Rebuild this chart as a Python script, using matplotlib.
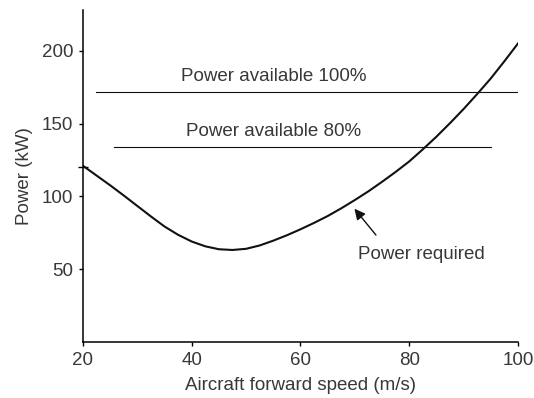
import matplotlib
matplotlib.use("Agg")
import matplotlib.pyplot as plt

# power required curve
speed = [20, 22.5, 25, 27.5, 30, 32.5, 35, 37.5, 40, 42.5, 45, 47.5, 50,
         52.5, 55, 57.5, 60, 62.5, 65, 67.5, 70, 72.5, 75, 77.5, 80,
         82.5, 85, 87.5, 90, 92.5, 95, 97.5, 100]
power_req = [121, 114.3, 107.6, 100.6, 93.4, 86.2, 79.3, 73.6, 69, 65.7, 63.7, 63.2, 64,
             66.3, 69.6, 73.3, 77.4, 81.8, 86.5, 91.8, 97.5, 103.5, 110, 116.8, 124,
             132.3, 141, 150.3, 160, 170.3, 181, 192.8, 205]

# power available lines: level, start speed, end speed
avail_levels = [172, 134]
avail_start = [22.4, 25.7]
avail_end = [100, 95]
avail_labels = ["Power available 100%", "Power available 80%"]
avail_label_y = [182.5, 144.5]

yticks = [50, 100, 150, 200]
xticks = [20, 40, 60, 80, 100]

plt.rcParams['font.family'] = ['Liberation Sans', 'DejaVu Sans']
txt = '#383838'
fs = 13.5

fig = plt.figure(figsize=(5.34, 3.98), dpi=100)
ax = fig.add_axes([0.1554, 0.1407, 0.8146, 0.8342])

ax.plot(speed, power_req, color='#111111', lw=1.5)
for lvl, x0, x1 in zip(avail_levels, avail_start, avail_end):
    ax.plot([x0, x1], [lvl, lvl], color='#111111', lw=0.8)
for lab, ly in zip(avail_labels, avail_label_y):
    ax.text(55.1, ly, lab, ha='center', va='center', fontsize=fs, color=txt)

ax.annotate("", xy=(69.6, 93), xytext=(74.2, 72),
            arrowprops=dict(arrowstyle='-|>', color='#111111', lw=1, mutation_scale=16))
ax.text(70.6, 60, "Power required", ha='left', va='center', fontsize=fs, color=txt)

ax.set_xlim(20, 100)
ax.set_ylim(0, 228)
ax.set_xticks(xticks)
ax.set_yticks(yticks)
ax.set_yticks([120], minor=True)
ax.tick_params(which='major', direction='out', length=3, width=1, labelsize=fs,
               labelcolor=txt, pad=4)
ax.tick_params(axis='y', which='minor', direction='inout', length=7, width=1)
for s in ['top', 'right']:
    ax.spines[s].set_visible(False)
for s in ['left', 'bottom']:
    ax.spines[s].set_linewidth(1.1)

ax.set_xlabel("Aircraft forward speed (m/s)", fontsize=fs, color=txt, labelpad=6)
ax.set_ylabel("Power (kW)", fontsize=fs, color=txt, labelpad=6)

fig.savefig("out.png", dpi=100)
